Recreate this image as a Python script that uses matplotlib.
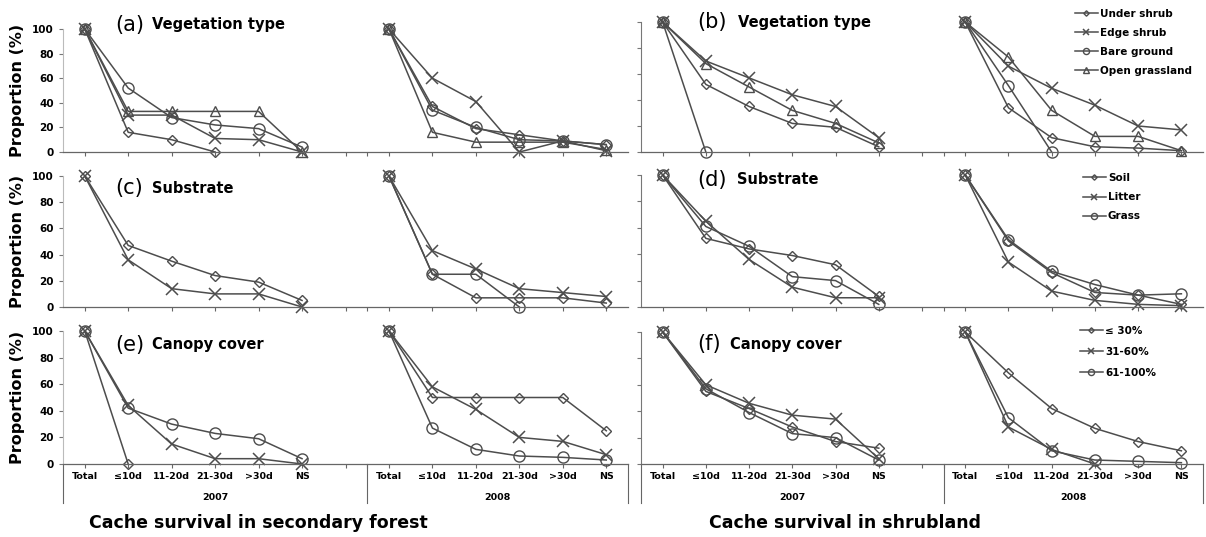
import numpy as np
import matplotlib
matplotlib.use('Agg')
import matplotlib.pyplot as plt
from matplotlib.transforms import blended_transform_factory

nan = np.nan

cats = ['Total', '≤10d', '11-20d', '21-30d', '>30d', 'NS']
years = ['2007', '2008']

# (a) secondary forest, vegetation type
a_under_07 = [100, 16, 10, 0, nan, nan]
a_edge_07 = [100, 30, 30, 11, 10, 0]
a_bare_07 = [100, 52, 28, 22, 19, 4]
a_open_07 = [100, 33, 33, 33, 33, 0]
a_under_08 = [100, 37, 19, 14, 9, 6]
a_edge_08 = [100, 60, 41, 0, 9, 1]
a_bare_08 = [100, 34, 20, 10, 9, 6]
a_open_08 = [100, 16, 8, 8, 8, 2]

# (b) shrubland, vegetation type
b_under_07 = [100, 52, 35, 22, 19, 4]
b_edge_07 = [100, 70, 57, 44, 35, 11]
b_bare_07 = [100, 0, nan, nan, nan, nan]
b_open_07 = [100, 68, 50, 32, 22, 7]
b_under_08 = [100, 34, 11, 4, 3, 1]
b_edge_08 = [100, 66, 49, 36, 20, 17]
b_bare_08 = [100, 51, 0, nan, nan, nan]
b_open_08 = [100, 73, 32, 12, 12, 1]

# (c) secondary forest, substrate
c_soil_07 = [100, 47, 35, 24, 19, 5]
c_litter_07 = [100, 36, 14, 10, 10, 0]
c_grass_07 = [nan, nan, nan, nan, nan, nan]
c_soil_08 = [100, 25, 7, 7, 7, 3]
c_litter_08 = [100, 43, 29, 14, 11, 8]
c_grass_08 = [100, 25, 25, 0, nan, nan]

# (d) shrubland, substrate
d_soil_07 = [100, 52, 44, 39, 32, 8]
d_litter_07 = [100, 65, 36, 15, 7, 7]
d_grass_07 = [100, 61, 46, 23, 20, 2]
d_soil_08 = [100, 50, 26, 11, 9, 2]
d_litter_08 = [100, 34, 12, 5, 2, 1]
d_grass_08 = [100, 51, 27, 17, 9, 10]

# (e) secondary forest, canopy cover
e_low_07 = [100, 0, nan, nan, nan, nan]
e_mid_07 = [100, 44, 15, 4, 4, 0]
e_high_07 = [100, 42, 30, 23, 19, 4]
e_low_08 = [100, 50, 50, 50, 50, 25]
e_mid_08 = [100, 58, 41, 20, 17, 7]
e_high_08 = [100, 27, 11, 6, 5, 3]

# (f) shrubland, canopy cover
f_low_07 = [100, 55, 42, 28, 17, 12]
f_mid_07 = [100, 60, 46, 37, 34, 4]
f_high_07 = [100, 57, 39, 23, 20, 3]
f_low_08 = [100, 69, 42, 27, 17, 10]
f_mid_08 = [100, 28, 11, 0, nan, nan]
f_high_08 = [100, 35, 10, 3, 2, 1]

veg_labels = ['Under shrub', 'Edge shrub', 'Bare ground', 'Open grassland']
sub_labels = ['Soil', 'Litter', 'Grass']
can_labels = ['≤ 30%', '31-60%', '61-100%']

plt.rcParams['font.family'] = 'DejaVu Sans'

W, H = 1206, 537
fig = plt.figure(figsize=(W / 100, H / 100), dpi=100)

LC = '#4d4d4d'
markers = [dict(marker='D', ms=5), dict(marker='x', ms=8, mew=1.1),
           dict(marker='o', ms=8), dict(marker='^', ms=7.5)]

x07 = np.arange(6)
x08 = np.arange(6) + 7

panels = [
    ('a', 'Vegetation type', (63, 628, 29, 152), [(a_under_07, a_under_08), (a_edge_07, a_edge_08), (a_bare_07, a_bare_08), (a_open_07, a_open_08)], None),
    ('b', 'Vegetation type', (641, 1203, 22, 152), [(b_under_07, b_under_08), (b_edge_07, b_edge_08), (b_bare_07, b_bare_08), (b_open_07, b_open_08)], (veg_labels, 1075, 9, 0.85)),
    ('c', 'Substrate', (63, 628, 176, 307), [(c_soil_07, c_soil_08), (c_litter_07, c_litter_08), (c_grass_07, c_grass_08)], None),
    ('d', 'Substrate', (641, 1203, 175, 307), [(d_soil_07, d_soil_08), (d_litter_07, d_litter_08), (d_grass_07, d_grass_08)], (sub_labels, 1083, 173, 0.88)),
    ('e', 'Canopy cover', (63, 628, 331, 464), [(e_low_07, e_low_08), (e_mid_07, e_mid_08), (e_high_07, e_high_08)], None),
    ('f', 'Canopy cover', (641, 1203, 332, 464), [(f_low_07, f_low_08), (f_mid_07, f_mid_08), (f_high_07, f_high_08)], (can_labels, 1080, 326, 1.05)),
]

title_pos = {'a': (115, 152, 25), 'b': (697, 738, 22), 'c': (115, 152, 188),
             'd': (697, 737, 180), 'e': (115, 152, 345), 'f': (697, 730, 344)}

for key, name, (l, r, t, b), series, leg in panels:
    ax = fig.add_axes([l / W, 1 - b / H, (r - l) / W, (b - t) / H])
    handles = []
    for i, (s07, s08) in enumerate(series):
        h, = ax.plot(x07, s07, color=LC, lw=1.1, mfc='none', mec=LC, clip_on=False, **markers[i])
        ax.plot(x08, s08, color=LC, lw=1.1, mfc='none', mec=LC, clip_on=False, **markers[i])
        handles.append(h)

    ax.set_xlim(-0.5, 12.5)
    ax.set_ylim(0, 100)
    ax.spines['right'].set_color('none')
    ax.spines['top'].set_color('none')
    ax.spines['bottom'].set_color('#666666')
    ax.spines['bottom'].set_linewidth(0.9)
    left_col = key in 'ace'
    ax.spines['left'].set_color('#bbbbbb' if left_col else '#777777')
    ax.spines['left'].set_linewidth(0.8)

    ax.set_xticks(np.arange(13))
    ax.set_xticks([6.5], minor=True)
    ax.tick_params(axis='x', which='both', direction='out', length=3, width=0.8, color='#666666')
    ax.set_yticks(np.arange(0, 101, 20))
    ax.tick_params(axis='y', direction='out', length=3, width=0.8, color='#777777')

    if left_col:
        ax.set_yticklabels([str(v) for v in range(0, 101, 20)], fontsize=7.5, fontweight='bold')
        fig.text(18 / W, 1 - (t + b) / 2 / H, 'Proportion (%)', rotation=90, ha='center', va='center',
                 fontsize=11.5, fontweight='bold')
    else:
        ax.set_yticklabels([])

    if key in 'ef':
        ax.set_xticklabels(cats + [''] + cats, fontsize=6.8, fontweight='bold')
        ax.tick_params(axis='x', pad=3)
        tr = blended_transform_factory(ax.transData, ax.transAxes)
        for xs in [-0.5, 6.5, 12.5]:
            ax.plot([xs, xs], [0, -0.295], color='#666666', lw=0.8, transform=tr, clip_on=False)
        ax.text(3, -0.255, years[0], transform=tr, ha='center', va='center', fontsize=6.8, fontweight='bold')
        ax.text(9.5, -0.255, years[1], transform=tr, ha='center', va='center', fontsize=6.8, fontweight='bold')
    else:
        ax.set_xticklabels([])

    px, nx, ty = title_pos[key]
    fig.text(px / W, 1 - ty / H, '(%s)' % key, fontsize=15, ha='left', va='center')
    fig.text(nx / W, 1 - ty / H, name, fontsize=10.5, fontweight='bold', ha='left', va='center')

    if leg is not None:
        labels, lx, ly, sp = leg
        ax.legend(handles, labels, loc='upper left', bbox_to_anchor=(lx / W, 1 - ly / H),
                  bbox_transform=fig.transFigure, frameon=False, prop={'size': 7.5, 'weight': 'bold'},
                  handlelength=2.2, handletextpad=0.2, labelspacing=sp, borderpad=0, borderaxespad=0,
                  markerscale=0.55)

fig.text(258 / W, 1 - 523 / H, 'Cache survival in secondary forest', ha='center', va='center',
         fontsize=12.5, fontweight='bold')
fig.text(845 / W, 1 - 523 / H, 'Cache survival in shrubland', ha='center', va='center',
         fontsize=12.5, fontweight='bold')

fig.savefig('out.png', dpi=100)
